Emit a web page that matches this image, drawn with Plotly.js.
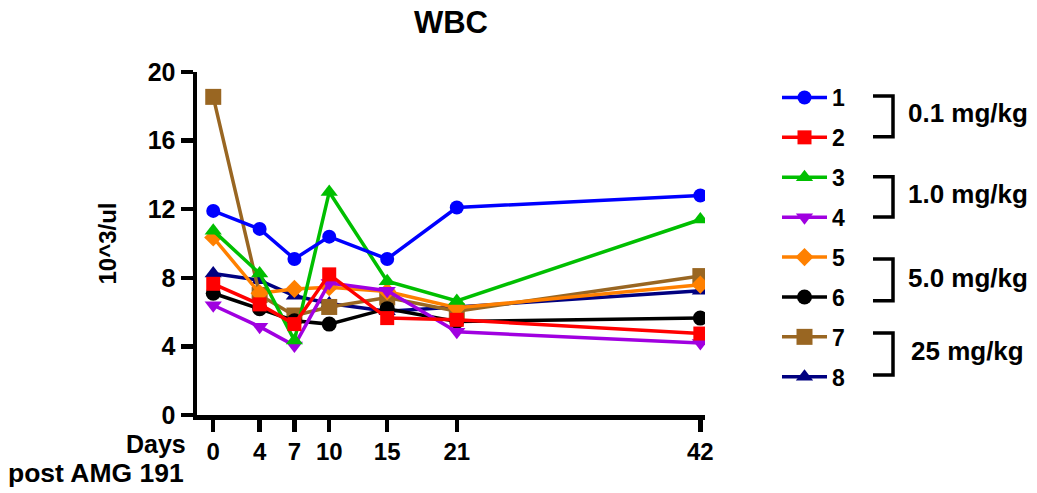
<!DOCTYPE html>
<html>
<head>
<meta charset="utf-8">
<script src="https://cdn.plot.ly/plotly-3.0.1.min.js"></script>
<style>html,body{margin:0;padding:0;background:#fff;}#chart{width:1037px;height:493px;}</style>
</head>
<body>
<div id="chart"></div>
<script>
// ---- data ----
const days = [0, 4, 7, 10, 15, 21, 42];
const seriesNames = ['1', '2', '3', '4', '5', '6', '7', '8'];
const s1 = [11.9, 10.85, 9.1, 10.4, 9.1, 12.1, 12.8];
const s2 = [7.65, 6.45, 5.3, 8.2, 5.65, 5.55, 4.75];
const s3 = [10.75, 8.25, 4.35, 13.0, 7.8, 6.65, 11.4];
const s4 = [6.4, 5.15, 4.05, 7.7, 7.25, 4.85, 4.2];
const s5 = [10.35, 7.1, 7.35, 7.45, 7.2, 6.25, 7.6];
const s6 = [7.1, 6.2, 5.5, 5.3, 6.2, 5.45, 5.65];
const s7 = [18.55, 7.0, 5.8, 6.3, 6.85, 6.05, 8.1];
const s8 = [8.25, 7.85, 6.95, 6.5, 6.05, 6.3, 7.25];
const groupLabels = ['0.1 mg/kg', '1.0 mg/kg', '5.0 mg/kg', '25 mg/kg'];

// ---- styles ----
const values = [s1, s2, s3, s4, s5, s6, s7, s8];
const colors = ['#0000FF', '#FF0000', '#00BF00', '#A000E0', '#FF8000', '#000000', '#996622', '#000080'];
const symbols = ['circle', 'square', 'triangle-up', 'triangle-down', 'diamond', 'circle', 'square', 'triangle-up'];
const sizes = [14, 14, 15, 15, 14, 15, 16, 15];
const FONT = 'Liberation Sans, Arial, sans-serif';

const W = 1037, H = 493, L = 197, R = 332, T = 72, B = 78;
const pw = W - L - R, ph = H - T - B;
const px2x = p => (p - L) / pw;
const px2y = p => (H - B - p) / ph;

let traces = values.map((v, i) => ({
  type: 'scatter', mode: 'lines+markers',
  x: days, y: v, name: seriesNames[i],
  legendgroup: 'g' + i, legendrank: i + 1,
  line: {color: colors[i], width: 3.5},
  marker: {color: colors[i], symbol: symbols[i], size: sizes[i]}
}));
traces = traces.slice().reverse();

const brackets = [[96, 136.7], [176.7, 217], [259, 300.7], [333, 375]];
const shapes = brackets.map(b => ({
  type: 'path', xref: 'paper', yref: 'paper',
  path: `M ${px2x(873)},${px2y(b[0])} L ${px2x(893)},${px2y(b[0])} L ${px2x(893)},${px2y(b[1])} L ${px2x(873)},${px2y(b[1])}`,
  line: {color: '#000', width: 3.5}
}));
const labelPos = [[906, 113], [906, 194], [906, 278], [909, 351]];
const annotations = groupLabels.map((t, i) => ({
  text: t, xref: 'paper', yref: 'paper', x: px2x(labelPos[i][0]), y: px2y(labelPos[i][1]),
  xanchor: 'left', yanchor: 'middle', showarrow: false,
  font: {family: FONT, size: 26, weight: 'bold', color: '#000'}
}));
annotations.push({
  text: 'Days', xref: 'paper', yref: 'paper', x: px2x(188), y: px2y(444),
  xanchor: 'right', yanchor: 'middle', showarrow: false,
  font: {family: FONT, size: 25, weight: 'bold', color: '#000'}
});
annotations.push({
  text: 'post AMG 191', xref: 'paper', yref: 'paper', x: px2x(186), y: px2y(473),
  xanchor: 'right', yanchor: 'middle', showarrow: false,
  font: {family: FONT, size: 26.5, weight: 'bold', color: '#000'}
});

const axisCommon = {
  showline: true, linewidth: 4.5, linecolor: '#000', ticks: 'outside', ticklen: 12, tickwidth: 4.5,
  tickcolor: '#000', showgrid: false, zeroline: false, fixedrange: true
};

const layout = {
  width: W, height: H, margin: {l: L, r: R, t: T, b: B},
  paper_bgcolor: '#fff', plot_bgcolor: '#fff',
  title: {text: 'WBC', font: {family: FONT, size: 31, weight: 'bold', color: '#000'},
          xref: 'paper', x: 0.5, xanchor: 'center', yref: 'container', y: 1 - 22 / H, yanchor: 'middle'},
  xaxis: Object.assign({}, axisCommon, {
    range: [-1.4, 42.4], tickvals: days,
    tickfont: {family: FONT, size: 24, weight: 'bold', color: '#000'}
  }),
  yaxis: Object.assign({}, axisCommon, {
    range: [0, 20], dtick: 4, tick0: 0,
    tickfont: {family: FONT, size: 25, weight: 'bold', color: '#000'},
    title: {text: '10^3/ul', font: {family: FONT, size: 24, weight: 'bold', color: '#000'}, standoff: 26}
  }),
  showlegend: true,
  legend: {
    x: px2x(777), y: px2y(76), xanchor: 'left', yanchor: 'top', itemwidth: 45,
    traceorder: 'grouped', tracegroupgap: 7, bgcolor: 'rgba(0,0,0,0)', borderwidth: 0,
    font: {family: FONT, size: 23, weight: 'bold', color: '#000'}
  },
  shapes: shapes,
  annotations: annotations
};

Plotly.newPlot('chart', traces, layout, {displayModeBar: false, staticPlot: true});
</script>
</body>
</html>
